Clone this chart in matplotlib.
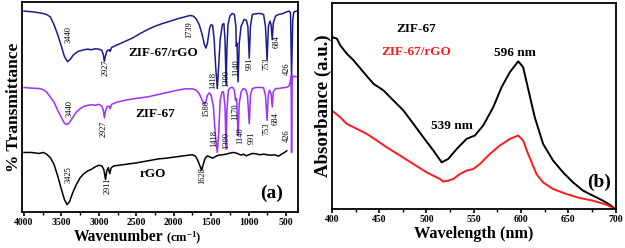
import matplotlib
matplotlib.use("Agg")
import matplotlib.pyplot as plt
from matplotlib.ticker import MultipleLocator

plt.rcParams['font.family'] = ['Liberation Serif', 'DejaVu Serif']
plt.rcParams['font.weight'] = 'bold'
plt.rcParams['mathtext.fontset'] = 'custom'
plt.rcParams['mathtext.rm'] = 'Liberation Serif:bold'
plt.rcParams['mathtext.default'] = 'rm'

# ---------------- FTIR data (panel a) ----------------
wn_comp = [4000, 3900, 3800, 3750, 3700, 3650, 3600, 3550, 3500, 3460, 3420, 3380, 3340, 3280,
           3200, 3150, 3100, 3050, 3000, 2960, 2940, 2927, 2915, 2890, 2860, 2850, 2830, 2750,
           2650, 2550, 2450, 2350, 2250, 2150, 2050, 1950, 1850, 1780, 1739, 1700, 1660, 1620,
           1590, 1570, 1550, 1520, 1500, 1480, 1460, 1440, 1418, 1400, 1380, 1350, 1330, 1315,
           1300, 1290, 1275, 1250, 1220, 1190, 1170, 1165, 1155, 1140, 1125, 1100, 1060, 1030,
           1010, 991, 975, 950, 900, 850, 800, 775, 753, 735, 715, 700, 684, 670, 640, 600,
           550, 500, 460, 440, 426, 410, 395, 360]
t_comp = [60.5, 60.3, 60.0, 59.8, 59.5, 58.8, 56.5, 53.5, 50.0, 47.0, 45.5, 46.2, 47.5, 48.5,
          49.0, 49.2, 49.0, 49.3, 49.2, 48.8, 47.5, 45.5, 47.0, 48.8, 49.0, 48.5, 49.7, 50.5,
          51.5, 52.5, 53.8, 55.0, 56.0, 56.8, 57.5, 58.2, 58.8, 59.2, 59.0, 58.2, 56.5, 53.5,
          50.5, 49.5, 51.0, 55.5, 56.5, 56.2, 52.0, 44.0, 37.5, 44.0, 52.0, 56.5, 56.8, 52.0,
          38.5, 49.0, 56.5, 59.0, 59.8, 59.5, 56.0, 50.0, 51.0, 39.5, 51.0, 56.0, 58.0, 57.8,
          56.0, 46.5, 56.0, 59.5, 59.7, 59.8, 59.5, 56.0, 46.0, 56.0, 57.5, 56.5, 52.0, 57.0,
          59.0, 59.5, 59.7, 60.2, 60.5, 60.0, 41.0, 58.0, 60.2, 60.5]

wn_zif = [4000, 3900, 3800, 3750, 3700, 3650, 3600, 3550, 3500, 3460, 3430, 3400, 3360, 3300,
          3250, 3200, 3150, 3100, 3050, 3000, 2960, 2940, 2927, 2915, 2890, 2860, 2850, 2830,
          2750, 2650, 2550, 2450, 2350, 2250, 2150, 2050, 1950, 1850, 1750, 1700, 1660, 1620,
          1590, 1570, 1550, 1525, 1500, 1470, 1445, 1418, 1400, 1380, 1355, 1335, 1315, 1300,
          1290, 1270, 1240, 1210, 1190, 1175, 1160, 1140, 1125, 1100, 1070, 1040, 1015, 991,
          975, 950, 900, 850, 800, 775, 753, 738, 720, 700, 684, 670, 640, 600, 550, 500, 460,
          440, 432, 426, 418, 405, 365]
t_zif = [37.8, 37.6, 37.5, 37.2, 36.5, 35.0, 33.5, 31.0, 28.8, 27.2, 26.8, 27.2, 28.5, 30.5,
         31.5, 32.2, 32.5, 32.7, 32.5, 32.8, 32.2, 31.0, 28.8, 30.5, 32.2, 32.2, 31.5, 32.8,
         33.5, 34.0, 34.4, 34.7, 35.0, 35.5, 36.0, 36.5, 37.0, 37.4, 37.4, 37.0, 36.0, 34.0,
         32.8, 33.5, 35.5, 36.2, 35.5, 32.0, 24.0, 18.5, 24.0, 34.0, 36.5, 36.5, 32.0, 19.5,
         31.0, 37.0, 37.8, 37.8, 37.0, 34.0, 34.5, 23.5, 33.0, 36.5, 37.5, 37.2, 35.5, 27.0,
         35.5, 37.5, 37.8, 37.8, 37.7, 35.5, 28.0, 35.5, 37.0, 36.0, 32.0, 36.5, 37.5, 37.5,
         37.7, 37.8, 38.2, 40.0, 41.2, 18.5, 40.0, 41.2, 41.0]

wn_rgo = [4000, 3900, 3800, 3740, 3700, 3650, 3600, 3550, 3500, 3460, 3425, 3390, 3350, 3300,
          3250, 3200, 3150, 3100, 3050, 3000, 2960, 2935, 2911, 2895, 2875, 2855, 2835, 2800,
          2700, 2600, 2500, 2400, 2300, 2200, 2100, 2000, 1900, 1800, 1750, 1710, 1680, 1650,
          1628, 1605, 1580, 1550, 1520, 1480, 1450, 1400, 1350, 1300, 1250, 1200, 1150, 1100,
          1070, 1030, 1000, 950, 900, 850, 800, 750, 700, 650, 600, 560, 520, 490]
t_rgo = [18.5, 18.5, 18.2, 18.5, 18.0, 17.0, 15.0, 11.5, 7.5, 4.5, 3.0, 4.0, 6.5, 9.0,
         11.0, 12.2, 13.0, 13.5, 14.2, 14.7, 14.5, 13.5, 10.5, 13.0, 14.0, 12.2, 14.0, 14.5,
         14.8, 15.1, 15.4, 15.8, 16.2, 16.6, 16.8, 17.1, 17.4, 17.7, 17.8, 17.4, 16.2, 14.5,
         13.2, 15.0, 16.8, 17.5, 17.2, 16.8, 17.2, 17.7, 17.8, 18.0, 18.3, 18.5, 18.2, 17.7,
         18.0, 17.5, 17.8, 18.2, 18.1, 17.8, 18.0, 17.8, 17.7, 17.8, 17.4, 18.0, 18.5, 19.0]

# peak labels: (text, wavenumber, transmittance)
peaks_comp = [("3440", 3408, 53.5), ("2927", 2905, 43.8), ("1739", 1790, 55.0),
              ("1418", 1471, 40.0), ("1300", 1293, 40.5), ("1140", 1168, 43.8),
              ("991", 981, 45.0), ("753", 759, 44.8), ("684", 625, 51.5), ("426", 492, 43.3)]
peaks_zif = [("3440", 3386, 31.5), ("2927", 2940, 25.5), ("1580", 1560, 31.5),
             ("1418", 1462, 22.5), ("1300", 1293, 22.0), ("1170", 1182, 30.5),
             ("1140", 1115, 23.5), ("991", 959, 23.0), ("753", 759, 25.5),
             ("684", 634, 28.5), ("426", 492, 23.5)]
peaks_rgo = [("3425", 3408, 12.0), ("2911", 2887, 8.5), ("1628", 1614, 11.5)]

# ---------------- UV-vis data (panel b) ----------------
wl_zif = [400, 405.3, 408.8, 415.8, 422.9, 433.4, 444.0, 454.5, 465.0, 475.6, 486.2, 496.7,
          507.3, 516.1, 523.0, 532.0, 542.4, 551.2, 560.0, 570.6, 579.4, 588.2, 597.0, 602.2,
          607.5, 614.5, 623.3, 633.9, 644.4, 655.0, 665.5, 676.0, 686.6, 693.7, 700]
a_zif = [0.858, 0.850, 0.817, 0.775, 0.742, 0.683, 0.625, 0.592, 0.542, 0.492, 0.425, 0.358,
         0.292, 0.233, 0.250, 0.300, 0.350, 0.367, 0.417, 0.508, 0.608, 0.683, 0.737, 0.708,
         0.600, 0.458, 0.325, 0.242, 0.183, 0.133, 0.092, 0.067, 0.042, 0.022, 0.0]
wl_comp = [400, 408.8, 415.8, 426.4, 436.9, 447.5, 458.0, 472.1, 486.2, 500.2, 514.3, 517.8,
           523.1, 528.4, 535.4, 542.4, 549.5, 556.5, 567.1, 577.6, 588.2, 597.0, 602.2, 607.5,
           616.3, 623.3, 633.9, 648.0, 662.0, 676.1, 690.2, 700]
a_comp = [0.492, 0.458, 0.425, 0.400, 0.375, 0.342, 0.308, 0.267, 0.225, 0.183, 0.150, 0.137,
          0.142, 0.150, 0.175, 0.192, 0.200, 0.225, 0.275, 0.317, 0.350, 0.367, 0.342, 0.275,
          0.175, 0.133, 0.100, 0.075, 0.055, 0.042, 0.022, 0.0]

NAVY = '#1c1c8e'
PURPLE = '#9b30ff'
RED = '#ff1a1a'

fig = plt.figure(figsize=(6.25, 2.48), dpi=100)
axa = fig.add_axes([0.0352, 0.145, 0.4416, 0.847])
axb = fig.add_axes([0.531, 0.157, 0.454, 0.831])

for ax in (axa, axb):
    for s in ax.spines.values():
        s.set_linewidth(1.3)
    ax.tick_params(axis='x', which='major', direction='out', length=3, width=1.2,
                   labelsize=7, pad=1.5)
    ax.tick_params(axis='x', which='minor', direction='out', length=2, width=1.0)
    ax.set_yticks([])

# Panel a
axa.plot(wn_comp, t_comp, color=NAVY, lw=1.1)
axa.plot(wn_zif, t_zif, color=PURPLE, lw=1.1)
axa.plot(wn_rgo, t_rgo, color='black', lw=1.1)
axa.set_xlim(4027, 340)
axa.set_ylim(0.8, 63.2)
axa.xaxis.set_major_locator(MultipleLocator(500))
axa.xaxis.set_minor_locator(MultipleLocator(250))
for lbl in axa.get_xticklabels():
    lbl.set_fontweight('bold')
for group in (peaks_comp, peaks_zif, peaks_rgo):
    for txt, x, y in group:
        axa.text(x, y, txt, rotation=90, fontsize=6, fontweight='normal',
                 ha='center', va='center', color='black')
axa.text(2139, 48.0, "ZIF-67/rGO", fontsize=9.5, fontweight='bold', ha='center', va='center')
axa.text(2241, 30.0, "ZIF-67", fontsize=9.5, fontweight='bold', ha='center', va='center')
axa.text(2273, 12.0, "rGO", fontsize=9.5, fontweight='bold', ha='center', va='center')
axa.text(692, 6.5, "(a)", fontsize=14, fontweight='bold', ha='center', va='center')
axa.text(0.511, -0.14, "Wavenumber", transform=axa.transAxes, fontsize=11.2,
         fontweight='bold', ha='right', va='baseline')
axa.text(0.520, -0.14, "(cm$^{-1}$)", transform=axa.transAxes, fontsize=9,
         fontweight='bold', ha='left', va='baseline')
axa.set_ylabel("% Transmittance", fontsize=12.5, fontweight='bold', labelpad=0)

# Panel b
axb.plot(wl_zif, a_zif, color='black', lw=1.4)
axb.plot(wl_comp, a_comp, color=RED, lw=1.4)
axb.set_xlim(400, 700)
axb.set_ylim(0, 1.028)
axb.xaxis.set_major_locator(MultipleLocator(50))
axb.xaxis.set_minor_locator(MultipleLocator(25))
for lbl in axb.get_xticklabels():
    lbl.set_fontweight('bold')
axb.text(489.7, 0.90, "ZIF-67", fontsize=9.5, fontweight='bold', ha='center', va='center')
axb.text(489.7, 0.783, "ZIF-67/rGO", fontsize=9.5, fontweight='bold', ha='center',
         va='center', color=RED)
axb.text(593.4, 0.778, "596 nm", fontsize=9.5, fontweight='bold', ha='center', va='center')
axb.text(526.6, 0.412, "539 nm", fontsize=9.5, fontweight='bold', ha='center', va='center')
axb.text(683, 0.133, "(b)", fontsize=14, fontweight='bold', ha='center', va='center')
axb.set_xlabel("Wavelength (nm)", fontsize=11.7, fontweight='bold', labelpad=1)
axb.set_ylabel("Absorbance (a.u.)", fontsize=13.5, fontweight='bold', labelpad=0)

fig.savefig("out.png", dpi=100)
